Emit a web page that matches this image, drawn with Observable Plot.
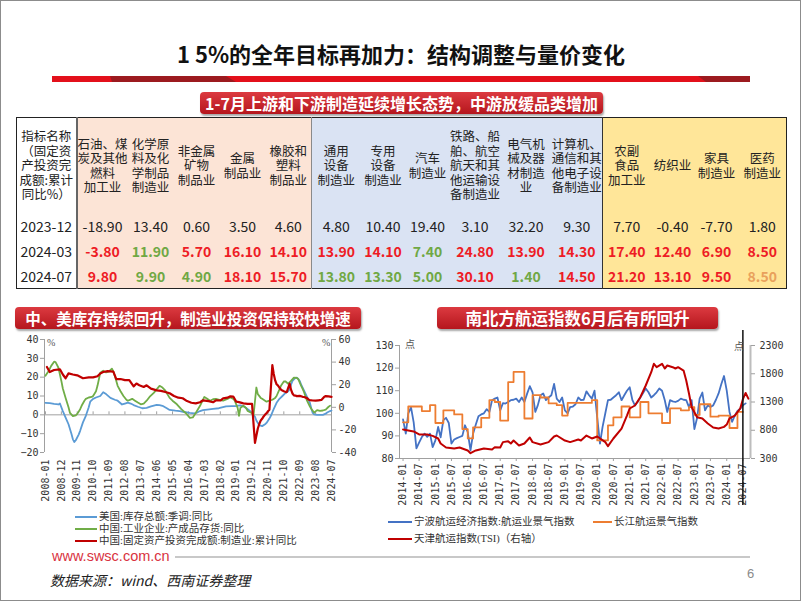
<!DOCTYPE html>
<html><head><meta charset="utf-8">
<script src="https://cdn.jsdelivr.net/npm/d3@7"></script>
<script src="https://cdn.jsdelivr.net/npm/@observablehq/plot@0.6"></script>
<style>
body{margin:0;width:802px;height:602px;position:relative;overflow:hidden;background:#fff;font-family:"Noto Sans CJK SC",sans-serif;}
#frame{position:absolute;left:0;top:0;width:799px;height:599px;border:1px solid #8c8c8c;}
.abs{position:absolute;}
#title{left:0;top:37px;width:802px;text-align:center;font-size:22px;font-weight:bold;color:#111;line-height:32px;}
.banner{position:absolute;height:22px;line-height:22px;color:#fff;font-weight:bold;text-align:center;border-radius:4px;
 background:linear-gradient(#dc3a40,#b5161d);box-shadow:1px 2px 2px rgba(0,0,0,0.35);white-space:nowrap;}
#tbl{position:absolute;left:16px;top:117px;border-collapse:collapse;table-layout:fixed;width:770px;border:1.5px solid #222;}
#tbl td{padding:0;text-align:center;vertical-align:middle;color:#222;overflow:visible;}
#tbl tr.h td{height:95px;font-size:12.5px;line-height:14.5px;white-space:pre;}
#tbl tr.d td{height:25px;font-size:14px;}
.up{background:#fce4d6}.mid{background:#dae3f3}.down{background:#ffe699}
.lg{position:absolute;font-family:"Liberation Serif","Noto Sans CJK SC",serif;font-size:10.5px;color:#333;white-space:nowrap;line-height:12px;}
.lgline{position:absolute;height:2px;}
.unit{position:absolute;font-family:"Liberation Serif","Noto Sans CJK SC",serif;font-size:10px;color:#555;}
</style></head>
<body>
<div id="frame"></div>
<div id="title" class="abs">1 5%的全年目标再加力：结构调整与量价变化</div>
<svg class="abs" style="left:0;top:74px" width="802" height="12">
  <rect x="52" y="2" width="698" height="6" fill="#e3101b"/>
  <polygon points="110,2 226,2 236,8 112,8" fill="#9c1a1f"/>
  <polygon points="698,2 750,2 750,8 706,8" fill="#9c1a1f"/>
</svg>
<div class="banner" style="left:200px;top:92px;width:403px;font-size:16px;">1-7月上游和下游制造延续增长态势，中游放缓品类增加</div>
<table id="tbl"></table>
<div class="banner" style="left:15px;top:307px;width:346px;font-size:15.5px;">中、美库存持续回升，制造业投资保持较快增速</div>
<div class="banner" style="left:437px;top:307px;width:281px;font-size:16.5px;">南北方航运指数6月后有所回升</div>
<div id="leftChart" class="abs" style="left:0;top:330px;width:372px;"></div>
<div id="rightChart" class="abs" style="left:360px;top:325px;width:442px;"></div>
<div class="unit" style="left:47px;top:337px;">%</div>
<div class="unit" style="left:322px;top:337px;">%</div>
<div class="unit" style="left:405px;top:336px;">点</div>
<div class="unit" style="left:734px;top:338px;">点</div>
<div id="legends"></div>
<div class="abs" style="left:52px;top:548px;font-family:'Liberation Sans',Arial,sans-serif;font-size:14.5px;color:#d9333f;">www.swsc.com.cn</div>
<div class="abs" style="left:175px;top:556px;width:575px;height:2px;background:#c8c8c8;"></div>
<div class="abs" style="left:50px;top:570px;font-size:14px;font-style:italic;color:#222;">数据来源：wind、西南证券整理</div>
<div class="abs" style="left:747px;top:566px;font-size:13px;color:#8a8a8a;font-family:'Liberation Sans',Arial;">6</div>
<script>
// ---------------- Table data ----------------
const tableHeaders = [
  "指标名称\n（固定资\n产投资完\n成额:累计\n同比%）",
  "石油、煤\n炭及其他\n燃料\n加工业", "化学原\n料及化\n学制品\n制造业", "非金属\n矿物\n制品业", "金属\n制品业", "橡胶和\n塑料\n制品业",
  "通用\n设备\n制造业", "专用\n设备\n制造业", "汽车\n制造业", "铁路、船\n舶、航空\n航天和其\n他运输设\n备制造业", "电气机\n械及器\n材制造\n业", "计算机、\n通信和其\n他电子设\n备制造业",
  "农副\n食品\n加工业", "纺织业", "家具\n制造业", "医药\n制造业"
];
const tableGroups = ["label","up","up","up","up","up","mid","mid","mid","mid","mid","mid","down","down","down","down"];
const periods = ["2023-12", "2024-03", "2024-07"];
const values2023_12 = [-18.90, 13.40, 0.60, 3.50, 4.60, 4.80, 10.40, 19.40, 3.10, 32.20, 9.30, 7.70, -0.40, -7.70, 1.80];
const values2024_03 = [-3.80, 11.90, 5.70, 16.10, 14.10, 13.90, 14.10, 7.40, 24.80, 13.90, 14.30, 17.40, 12.40, 6.90, 8.50];
const values2024_07 = [9.80, 9.90, 4.90, 18.10, 15.70, 13.80, 13.30, 5.00, 30.10, 1.40, 14.50, 21.20, 13.10, 9.50, 8.50];
// change markers: n = neutral, r = up (red), g = down (green), o = flat (orange)
const marks2023_12 = "nnnnnnnnnnnnnnn";
const marks2024_03 = "rgrrrrrgrrrrrrr";
const marks2024_07 = "rggrrgggrgrrrro";

// ---------------- Left chart data (%, YoY) ----------------
const usInventoryName = "美国:库存总额:季调:同比";
const usInventory = [
 ["2008-01",6.4],["2008-04",6.2],["2008-07",5.8],["2008-10",5.5],["2008-11",6],["2009-01",2],["2009-03",-1.5],["2009-05",-5],["2009-07",-10],["2009-08",-13],["2009-09",-14.4],["2009-10",-13.5],["2009-12",-10.5],
 ["2010-01",-8.5],["2010-03",-4],["2010-05",-0.5],["2010-07",4],["2010-08",7],["2010-10",8.5],["2010-12",9.2],["2011-03",10],["2011-05",12],["2011-07",11],["2011-10",9],
 ["2012-01",8],["2012-03",7.5],["2012-06",5.5],["2012-08",6],["2012-10",6.5],["2012-12",6],["2013-02",5.2],["2013-05",4.3],["2013-08",3.5],["2013-11",3.7],
 ["2014-02",4.5],["2014-06",5.3],["2014-08",5.2],["2014-10",4.8],["2015-01",3.5],["2015-03",2.6],["2015-07",2.2],["2015-10",2],["2016-01",1.5],["2016-05",1],["2016-08",0.8],["2016-10",1.2],["2016-12",2],
 ["2017-02",2.5],["2017-05",2.8],["2017-09",3.2],["2018-01",3.5],["2018-06",4.5],["2018-10",4.6],["2019-01",4.7],["2019-04",5],["2019-07",4.2],["2019-09",3],["2019-11",1.8],["2019-12",1],
 ["2020-02",-1],["2020-03",-3],["2020-05",-5.5],["2020-07",-6],["2020-09",-5],["2020-10",-4.3],["2020-12",-2],["2021-01",-0.5],["2021-03",3],["2021-05",6.4],["2021-07",8.5],["2021-09",10],["2021-11",11.5],
 ["2022-01",12.5],["2022-02",13.6],["2022-03",16],["2022-04",18],["2022-06",19.6],["2022-07",19.8],["2022-08",19],["2022-09",18],["2022-10",16],["2022-12",12.8],
 ["2023-02",9.5],["2023-04",6.5],["2023-05",3.5],["2023-06",1],["2023-07",0.3],["2023-09",0],["2023-11",0],["2024-01",0],["2024-03",0.6],["2024-04",1.2],["2024-06",2],["2024-07",2.3]
];
const cnInventoryName = "中国:工业企业:产成品存货:同比";
const cnInventory = [
 ["2008-01",20.7],["2008-03",23],["2008-05",26],["2008-07",28.2],["2008-08",28],["2008-10",25],["2008-12",18],["2009-01",14],["2009-03",9],["2009-05",4],["2009-06",1],["2009-08",-0.7],["2009-10",-0.3],["2009-11",0.5],
 ["2010-01",3],["2010-02",4.8],["2010-04",7.5],["2010-05",8.5],["2010-07",9.2],["2010-09",9.5],["2010-10",10],["2010-12",12.5],["2011-01",15.4],["2011-02",19],["2011-03",22.4],["2011-05",23.4],["2011-07",22.5],["2011-09",23],["2011-11",24.5],["2011-12",23],
 ["2012-01",20.7],["2012-03",15.4],["2012-05",12.5],["2012-07",10],["2012-09",8],["2012-10",7.5],["2013-01",8.5],["2013-03",7.5],["2013-05",6.5],["2013-07",5.6],["2013-09",6],["2013-11",7.5],
 ["2014-01",9.5],["2014-04",11.7],["2014-06",13.5],["2014-08",15.4],["2014-10",14.5],["2014-12",12.8],["2015-03",9],["2015-05",7.5],["2015-08",5.6],["2015-11",3],["2016-02",1],["2016-05",-1.6],["2016-07",-1.4],["2016-09",1],["2016-12",4.8],
 ["2017-03",9.5],["2017-05",8.5],["2017-07",7.5],["2017-09",8.3],["2017-11",8.5],["2018-02",7.8],["2018-04",7.5],["2018-07",8.5],["2018-09",9.2],["2018-11",8.5],["2018-12",7.5],
 ["2019-02",3.7],["2019-03",-0.5],["2019-04",3.8],["2019-06",4.8],["2019-08",3.5],["2019-09",2],["2019-11",1.2],["2019-12",0.8],["2020-01",-0.5],["2020-03",14.5],["2020-04",11],["2020-06",9],["2020-07",8.5],["2020-10",7],["2020-12",7.5],
 ["2021-02",8],["2021-04",9],["2021-05",10],["2021-07",13.5],["2021-08",15.4],["2021-10",17.7],["2021-11",17.8],["2022-01",16.5],["2022-03",18],["2022-05",19.8],["2022-07",19.6],["2022-08",19],["2022-10",15.4],["2022-11",13.8],["2022-12",12],
 ["2023-02",7.5],["2023-04",4.5],["2023-05",3.2],["2023-07",1.2],["2023-09",2.5],["2023-11",2.1],["2024-01",2.3],["2024-03",2.8],["2024-05",4.3],["2024-06",4.8]
];
const mfgInvestName = "中国:固定资产投资完成额:制造业:累计同比";
const mfgInvest = [ // right axis
 ["2008-02",35.7],["2008-04",31.2],["2008-07",33],["2008-11",33.6],["2009-01",29],["2009-03",25.7],["2009-05",30],["2009-08",29],["2009-11",28.3],["2010-03",25.7],["2010-07",26.5],["2010-10",26.5],
 ["2011-01",27.5],["2011-03",30],["2011-05",31.2],["2011-08",32],["2011-12",31.5],["2012-02",25],["2012-05",25],["2012-08",24],["2012-11",24],["2013-02",18.5],["2013-04",21],["2013-06",19.5],["2013-09",18],["2013-11",19.5],
 ["2014-02",16.5],["2014-06",15],["2014-09",14.5],["2014-12",13.5],["2015-03",12.4],["2015-06",10],["2015-09",8.5],["2015-12",8],["2016-03",5.5],["2016-06",4],["2016-09",3.5],["2016-12",4.5],
 ["2017-02",6.2],["2017-06",5.5],["2017-09",4.5],["2017-11",6.2],["2018-02",6],["2018-04",7.9],["2018-07",8.5],["2018-09",9.7],["2018-11",9.5],["2019-01",5],["2019-03",4.6],["2019-06",3.5],["2019-09",3],["2019-12",3.1],
 ["2020-02",-31.5],["2020-03",-25.2],["2020-04",-18.8],["2020-05",-14.8],["2020-06",-11.7],["2020-07",-10.2],["2020-08",-8.1],["2020-09",-6.5],["2020-10",-5.3],["2020-11",-3.5],["2020-12",-2.2],
 ["2021-02",37.3],["2021-03",29.8],["2021-04",23.8],["2021-05",20.4],["2021-06",19.2],["2021-07",17.3],["2021-08",15.7],["2021-09",14.8],["2021-10",14.2],["2021-11",13.7],["2021-12",13.5],
 ["2022-02",20.9],["2022-03",15.6],["2022-04",12.2],["2022-05",10.6],["2022-06",10.4],["2022-07",9.9],["2022-09",10.1],["2022-11",9.3],["2022-12",9.1],
 ["2023-02",8.1],["2023-03",7],["2023-04",6.4],["2023-06",6],["2023-08",5.9],["2023-10",6.2],["2023-12",6.5],["2024-02",9.4],["2024-03",9.9],["2024-05",9.6],["2024-07",9.3]
];
const leftTicksL = [-20,-10,0,10,20,30,40];
const leftTicksR = [-40,-20,0,20,40,60];
const leftXTickLabels = ["2008-01","2008-12","2009-11","2010-10","2011-09","2012-08","2013-07","2014-06","2015-05","2016-04","2017-03","2018-02","2019-01","2019-12","2020-11","2021-10","2022-09","2023-08","2024-07"];

// ---------------- Right chart data (点) ----------------
const ningboName = "宁波航运经济指数:航运业景气指数";
const ningbo = [
 ["2014-01",97.3],["2014-02",91],["2014-03",100],["2014-04",102.6],["2014-05",96],["2014-06",84.5],["2014-07",87],["2014-08",89.5],["2014-09",91],["2014-10",89.6],["2014-11",91],["2014-12",85],
 ["2015-01",88],["2015-02",94],["2015-03",89.4],["2015-04",97],["2015-05",98],["2015-06",95.7],["2015-07",86.6],["2015-08",88.4],["2015-09",89],["2015-10",89.5],["2015-11",90],["2015-12",94.7],
 ["2016-01",91.6],["2016-02",83.6],["2016-03",91],["2016-04",95],["2016-05",98.7],["2016-06",99.5],["2016-07",100],["2016-08",101.8],["2016-09",100.6],["2016-10",105.8],["2016-11",106.5],["2016-12",107],
 ["2017-01",101.3],["2017-02",104.5],["2017-03",104.3],["2017-04",105],["2017-05",105.8],["2017-06",106],["2017-07",106.5],["2017-08",105],["2017-09",107],["2017-10",105],["2017-11",108.7],["2017-12",112],
 ["2018-01",109.3],["2018-02",100.6],["2018-03",103.5],["2018-04",108],["2018-05",108.8],["2018-06",105.8],["2018-07",107],["2018-08",108],["2018-09",113],["2018-10",106.5],["2018-11",105],["2018-12",107],
 ["2019-01",101.3],["2019-02",100],["2019-03",102.7],["2019-04",103],["2019-05",104],["2019-06",107],["2019-07",105.8],["2019-08",106],["2019-09",109.7],["2019-10",108],["2019-11",106.5],["2019-12",110],
 ["2020-01",98],["2020-02",86.6],["2020-03",94],["2020-04",100],["2020-05",105.8],["2020-06",106],["2020-07",107],["2020-08",108],["2020-09",109.3],["2020-10",105.8],["2020-11",108],["2020-12",110],
 ["2021-01",111.5],["2021-02",105.8],["2021-03",103.5],["2021-04",105],["2021-05",107],["2021-06",109],["2021-07",111],["2021-08",109.3],["2021-09",107],["2021-10",108],["2021-11",109.3],["2021-12",111],
 ["2022-01",110],["2022-02",105.8],["2022-03",100.6],["2022-04",105.8],["2022-05",105.3],["2022-06",105],["2022-07",105.5],["2022-08",106.5],["2022-09",106],["2022-10",105.8],["2022-11",102.7],["2022-12",105.8],
 ["2023-01",93],["2023-02",98],["2023-03",106.5],["2023-04",109.2],["2023-05",101.3],["2023-06",103.5],["2023-07",102.8],["2023-08",103.5],["2023-09",106],["2023-10",108.8],["2023-11",113],["2023-12",116.5],
 ["2024-01",110],["2024-02",100.6],["2024-03",96.2],["2024-04",99],["2024-05",101],["2024-06",102],["2024-07",103.5],["2024-08",104.4]
];
const yangtzeName = "长江航运景气指数";
const yangtze = [ // quarterly readings, held until next reading
 ["2014-01",96],["2014-03",103],["2014-08",101],["2014-11",103.6],["2015-01",95.7],["2015-04",101.3],["2015-08",99.5],["2015-11",93],
 ["2016-01",88.9],["2016-03",93.8],["2016-06",98],["2016-09",105.8],["2016-11",105],["2017-01",96.8],["2017-04",113.8],["2017-06",118.3],["2017-10",97.7],
 ["2018-01",108],["2018-04",107],["2018-07",104.4],["2018-10",103.6],["2018-12",99],["2019-02",104.6],["2019-11",105.8],
 ["2020-01",88],["2020-05",94.7],["2020-07",98.2],["2020-10",103],["2021-01",98.2],["2021-05",105],["2021-08",100],
 ["2022-01",95.7],["2022-04",102.2],["2022-08",101.3],["2022-11",102.7],["2023-01",99.3],["2023-03",104],["2023-07",98.5],["2023-10",99],
 ["2024-02",93.5],["2024-05",100.6],["2024-07",100.6]
];
const tsiName = "天津航运指数(TSI)（右轴）";
const tsi = [ // right axis
 ["2014-01",813],["2014-03",796],["2014-05",778],["2014-07",725],["2014-10",725],["2014-12",700],["2015-02",654],["2015-03",565],["2015-05",495],["2015-08",477],["2015-10",495],["2015-12",460],
 ["2016-01",442],["2016-02",394],["2016-04",442],["2016-07",477],["2016-10",460],["2016-11",500],["2017-01",495],["2017-02",590],["2017-04",607],["2017-05",565],["2017-06",618],["2017-08",530],["2017-10",565],["2017-12",672],
 ["2018-01",590],["2018-04",548],["2018-07",590],["2018-09",690],["2018-10",707],["2019-01",618],["2019-03",590],["2019-06",636],["2019-07",618],["2019-09",707],["2019-11",654],
 ["2020-01",690],["2020-04",590],["2020-05",518],["2020-07",654],["2020-10",830],["2020-12",1060],["2021-01",1185],["2021-03",1238],["2021-05",1385],["2021-07",1592],["2021-09",1827],["2021-10",1976],["2021-11",1916],
 ["2022-01",1976],["2022-02",1893],["2022-03",1946],["2022-05",1916],["2022-06",1893],["2022-07",1916],["2022-09",1857],["2022-10",1680],["2022-11",1450],["2022-12",1208],
 ["2023-02",1031],["2023-04",1008],["2023-06",920],["2023-08",849],["2023-10",830],["2023-12",860],["2024-01",900],["2024-02",1010],["2024-04",1060],["2024-06",1185],["2024-07",1350],["2024-08",1460],["2024-09",1360]
];
const rightTicksL = [80,90,100,110,120,130];
const rightTicksR = [300,800,1300,1800,2300];
const rightXTickLabels = ["2014-01","2014-07","2015-01","2015-07","2016-01","2016-07","2017-01","2017-07","2018-01","2018-07","2019-01","2019-07","2020-01","2020-07","2021-01","2021-07","2022-01","2022-07","2023-01","2023-07","2024-01","2024-07"];
const markerMonth = ["2024-07"];

// ---------------- Build table ----------------
const colWidths = [60,51,46,46,46,46,49,45,44,51,51,51,48,44,44,48];
const markColor = {n:"#222", r:"#ee1c25", g:"#70a844", o:"#e9a15c"};
const tbl = document.getElementById("tbl");
const cg = document.createElement("colgroup");
colWidths.forEach(w => { const c = document.createElement("col"); c.style.width = w + "px"; cg.appendChild(c); });
tbl.appendChild(cg);
function cellBorder(td, i) {
  if (i === 0) td.style.borderRight = "2px solid #666";
  if (i === 6) td.style.borderLeft = "1px solid #8a8a8a";
  if (i === 12) td.style.borderLeft = "1.5px solid #333";
}
const hr = document.createElement("tr"); hr.className = "h";
tableHeaders.forEach((h, i) => {
  const td = document.createElement("td"); td.textContent = h;
  if (tableGroups[i] !== "label") td.className = tableGroups[i];
  cellBorder(td, i); hr.appendChild(td);
});
tbl.appendChild(hr);
const rowValues = [values2023_12, values2024_03, values2024_07];
const rowMarks = [marks2023_12, marks2024_03, marks2024_07];
periods.forEach((p, r) => {
  const tr = document.createElement("tr"); tr.className = "d";
  const td0 = document.createElement("td"); td0.textContent = p; cellBorder(td0, 0); tr.appendChild(td0);
  rowValues[r].forEach((v, j) => {
    const td = document.createElement("td"); td.textContent = v.toFixed(2);
    td.className = tableGroups[j + 1];
    const m = rowMarks[r][j];
    td.style.color = markColor[m];
    if (m !== "n") td.style.fontWeight = "bold";
    cellBorder(td, j + 1); tr.appendChild(td);
  });
  tbl.appendChild(tr);
});

// ---------------- Charts ----------------
const parse = d3.utcParse("%Y-%m");
const fmtMonth = d3.utcFormat("%Y-%m");
const axisGray = "#a0a0a0";
const monoStyle = {fontFamily: '"DejaVu Sans Mono", monospace', fontSize: "10px", color: "#333", overflow: "visible"};

// Left chart: left axis [-20,40], right axis [-40,60]
const rToL = v => -20 + (v + 40) * 60 / 100;
const lToR = v => Math.round((v + 20) * 100 / 60 - 40);
const leftDomain = [new Date("2007-12-12"), new Date("2024-07-01")];
const leftTickDates = leftXTickLabels.map(parse);
const left = Plot.plot({
  width: 372, height: 180, marginLeft: 44, marginRight: 41, marginTop: 9, marginBottom: 58,
  style: monoStyle,
  x: {type: "utc", domain: leftDomain},
  y: {domain: [-20, 40]},
  marks: [
    Plot.ruleX([leftDomain[0]], {stroke: axisGray}),
    Plot.ruleX([leftDomain[1]], {stroke: axisGray}),
    Plot.ruleY([0], {stroke: axisGray}),
    Plot.ruleX(leftTickDates, {y1: 0, y2: 1.6, stroke: axisGray}),
    Plot.axisY({ticks: leftTicksL, tickSize: 4, tickPadding: 2, stroke: axisGray, label: null}),
    Plot.axisY(leftTicksR.map(rToL), {anchor: "right", tickSize: 4, tickPadding: 3, stroke: axisGray, tickFormat: d => String(lToR(d)), label: null}),
    Plot.axisX({ticks: leftTickDates, tickFormat: fmtMonth, tickRotate: -90, tickSize: 0, tickPadding: 7, label: null}),
    Plot.line(usInventory, {x: d => parse(d[0]), y: d => d[1], stroke: "#5b9bd5", strokeWidth: 1.8}),
    Plot.line(cnInventory, {x: d => parse(d[0]), y: d => d[1], stroke: "#70ad47", strokeWidth: 1.8}),
    Plot.line(mfgInvest, {x: d => parse(d[0]), y: d => rToL(d[1]), stroke: "#c00000", strokeWidth: 2.2})
  ]
});
document.getElementById("leftChart").appendChild(left);

// Right chart: left axis [80,130], right axis [300,2300]
const tToL = v => 80 + (v - 300) / 40;
const lToT = v => Math.round(300 + (v - 80) * 40);
const rightDomain = [new Date("2013-11-22"), new Date("2024-09-25")];
const rightTickDates = rightXTickLabels.map(parse);
const right = Plot.plot({
  width: 442, height: 185, marginLeft: 39, marginRight: 52, marginTop: 20, marginBottom: 52,
  style: monoStyle,
  x: {type: "utc", domain: rightDomain},
  y: {domain: [80, 130]},
  marks: [
    Plot.ruleX([rightDomain[0]], {stroke: axisGray}),
    Plot.ruleX([rightDomain[1]], {stroke: "#bdbdbd", strokeWidth: 2}),
    Plot.ruleY([80], {stroke: axisGray}),
    Plot.axisY({ticks: rightTicksL, tickSize: 4, tickPadding: 2, stroke: axisGray, label: null}),
    Plot.axisY(rightTicksR.map(tToL), {anchor: "right", tickSize: 4, tickPadding: 5, stroke: axisGray, tickFormat: d => String(lToT(d)), label: null}),
    Plot.axisX({ticks: rightTickDates, tickFormat: fmtMonth, tickRotate: -90, tickSize: 3, tickPadding: 2, stroke: axisGray, label: null}),
    Plot.line(ningbo, {x: d => parse(d[0]), y: d => d[1], stroke: "#4472c4", strokeWidth: 1.8}),
    Plot.line(yangtze, {x: d => parse(d[0]), y: d => d[1], stroke: "#ed7d31", strokeWidth: 1.8, curve: "step-after"}),
    Plot.line(tsi, {x: d => parse(d[0]), y: d => tToL(d[1]), stroke: "#c00000", strokeWidth: 2}),
    Plot.ruleX(markerMonth.map(parse), {stroke: "#111", strokeWidth: 1.5, insetTop: -15, insetBottom: -47})
  ]
});
document.getElementById("rightChart").appendChild(right);

// ---------------- Legends ----------------
const legendItems = [
  {name: usInventoryName, color: "#5b9bd5", lx: 75, lw: 22, y: 517},
  {name: cnInventoryName, color: "#70ad47", lx: 75, lw: 22, y: 529},
  {name: mfgInvestName, color: "#c00000", lx: 75, lw: 22, y: 541},
  {name: ningboName, color: "#4472c4", lx: 388, lw: 24, y: 522},
  {name: yangtzeName, color: "#ed7d31", lx: 593, lw: 19, y: 522},
  {name: tsiName, color: "#c00000", lx: 388, lw: 24, y: 539}
];
const lgBox = document.getElementById("legends");
legendItems.forEach(it => {
  const ln = document.createElement("div"); ln.className = "lgline";
  ln.style.left = it.lx + "px"; ln.style.top = (it.y - 1) + "px"; ln.style.width = it.lw + "px"; ln.style.background = it.color;
  lgBox.appendChild(ln);
  const tx = document.createElement("div"); tx.className = "lg"; tx.textContent = it.name;
  tx.style.left = (it.lx + it.lw + 2) + "px"; tx.style.top = (it.y - 6) + "px";
  lgBox.appendChild(tx);
});
</script>
</body></html>
